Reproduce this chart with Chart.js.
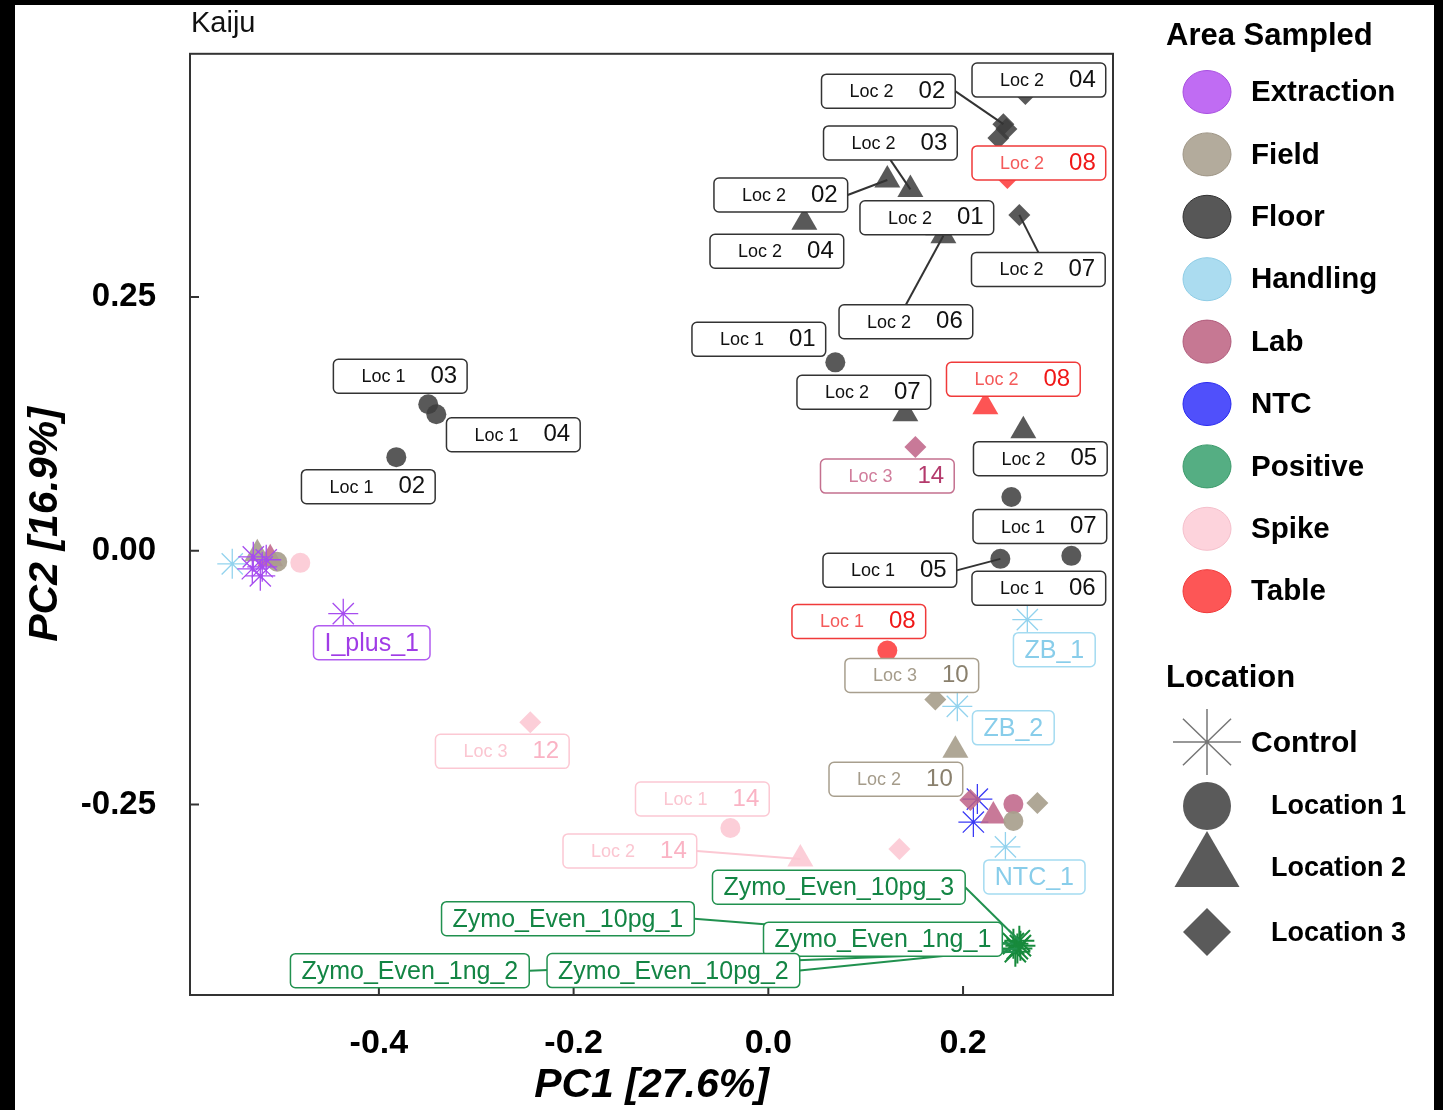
<!DOCTYPE html>
<html>
<head>
<meta charset="utf-8">
<title>Kaiju PCA</title>
<script src="https://cdn.jsdelivr.net/npm/chart.js@4.4.0/dist/chart.umd.min.js"></script>
<style>
  html, body { margin: 0; padding: 0; background: #000; }
  canvas { display: block; }
</style>
</head>
<body>
<canvas id="pca" width="1443" height="1110"></canvas>
<script>
const FONT = "'Liberation Sans', Arial, Helvetica, sans-serif";

// ---- data ----
const areaNames = ['Extraction', 'Field', 'Floor', 'Handling', 'Lab', 'NTC', 'Positive', 'Spike', 'Table'];
const locationNames = ['Control', 'Location 1', 'Location 2', 'Location 3'];

const xTicks = [-0.4, -0.2, 0.0, 0.2];
const xTickLabels = ['-0.4', '-0.2', '0.0', '0.2'];
const yTicks = [-0.25, 0.0, 0.25];
const yTickLabels = ['-0.25', '0.00', '0.25'];

// one entry per sample
const sampleArea = [
  'Floor', 'Floor', 'Floor', 'Floor', 'Floor', 'Floor', 'Floor', 'Floor', 'Floor', 'Floor',
  'Floor', 'Floor', 'Floor', 'Floor', 'Floor', 'Floor', 'Floor', 'Floor', 'Floor',
  'Table', 'Table', 'Table',
  'Lab', 'Lab', 'Lab', 'Lab', 'Lab',
  'Field', 'Field', 'Field', 'Field', 'Field', 'Field',
  'Handling', 'Handling', 'Handling', 'Handling',
  'NTC', 'NTC',
  'Positive', 'Positive', 'Positive', 'Positive', 'Positive',
  'Spike', 'Spike', 'Spike', 'Spike', 'Spike',
  'Extraction', 'Extraction', 'Extraction', 'Extraction', 'Extraction', 'Extraction'
];
const sampleLoc = [
  'Location 3', 'Location 3', 'Location 3', 'Location 3', 'Location 3', 'Location 2', 'Location 2', 'Location 2', 'Location 2', 'Location 2',
  'Location 1', 'Location 2', 'Location 2', 'Location 1', 'Location 1', 'Location 1', 'Location 1', 'Location 1', 'Location 1',
  'Location 3', 'Location 2', 'Location 1',
  'Location 3', 'Location 3', 'Location 2', 'Location 1', 'Location 2',
  'Location 3', 'Location 2', 'Location 3', 'Location 1', 'Location 2', 'Location 1',
  'Control', 'Control', 'Control', 'Control',
  'Control', 'Control',
  'Control', 'Control', 'Control', 'Control', 'Control',
  'Location 3', 'Location 1', 'Location 2', 'Location 3', 'Location 1',
  'Control', 'Control', 'Control', 'Control', 'Control', 'Control'
];
const pc1 = [
  0.2640, 0.2414, 0.2445, 0.2363, 0.2578, 0.1222, 0.1459, 0.0370, 0.1798, 0.1746,
  0.0688, 0.1407, 0.2619, -0.3493, -0.3410, -0.3821, 0.2496, 0.2383, 0.3112,
  0.2455, 0.2229, 0.1222,
  0.1510, 0.2075, 0.2311, 0.2517, -0.5116,
  0.1715, 0.1921, 0.2763, 0.2517, -0.5249, -0.5044,
  0.2660, 0.1941, 0.2435, -0.5506,
  0.2147, 0.2106,
  0.2578, 0.2517, 0.2589, 0.2537, 0.2558,
  -0.2445, -0.0390, 0.0329, 0.1346, -0.4807,
  -0.4366, -0.5290, -0.5300, -0.5198, -0.5157, -0.5218
];
const pc2 = [
  0.4500, 0.4204, 0.4155, 0.4067, 0.3310, 0.3654, 0.3561, 0.3237, 0.3104, 0.3183,
  0.1857, 0.1351, 0.1184, 0.1444, 0.1346, 0.0923, 0.0530, -0.0079, -0.0049,
  0.3674, 0.1419, -0.0982,
  0.1022, -0.2456, -0.2613, -0.2495, -0.0079,
  -0.1464, -0.1965, -0.2485, -0.2662, -0.0029, -0.0108,
  -0.0678, -0.1532, -0.2917, -0.0128,
  -0.2446, -0.2672,
  -0.3841, -0.3870, -0.3890, -0.3949, -0.3919,
  -0.1690, -0.2731, -0.3035, -0.2937, -0.0118,
  -0.0619, -0.0059, -0.0177, -0.0157, -0.0088, -0.0246
];
const sampleTag = [
  'Loc 2 04', 'Loc 2 02', null, null, 'Loc 2 07', 'Loc 2 02', 'Loc 2 03', 'Loc 2 04', 'Loc 2 06', 'Loc 2 01',
  'Loc 1 01', 'Loc 2 07', 'Loc 2 05', 'Loc 1 03', 'Loc 1 04', 'Loc 1 02', 'Loc 1 07', 'Loc 1 05', 'Loc 1 06',
  'Loc 2 08', 'Loc 2 08', 'Loc 1 08',
  'Loc 3 14', null, null, null, null,
  'Loc 3 10', 'Loc 2 10', null, null, null, null,
  'ZB_1', 'ZB_2', 'NTC_1', null,
  null, null,
  'Zymo_Even_10pg_3', 'Zymo_Even_10pg_1', 'Zymo_Even_1ng_1', 'Zymo_Even_1ng_2', 'Zymo_Even_10pg_2',
  'Loc 3 12', 'Loc 1 14', 'Loc 2 14', null, null,
  'I_plus_1', null, null, null, null, null
];

// ---- label layout: box centre offset from its point, in pixels ----
const tagNudge = [
  [13.5, -14], [-115, -33], null, null, [19, 54.5], [-106.5, 15], [-20, -46.5], [-27.5, 29], [-37.5, 86], [-11.5, -10],
  [-76.5, -23], [-41.5, -21.5], [17, 28], [-28, -28], [77, 20.5], [-28, 29.5], [28.5, 29.5], [-110.5, 11.5], [-32.5, 32.5],
  [31.5, -15], [28, -27.5], [-28.5, -29],
  [-28, 29], null, null, null, null,
  [-23.5, -24], [-59.5, 29], null, null, null, null,
  [27, 30], [56, 21.5], [29, 30], null,
  null, null,
  [-180.5, -53.5], [-445.5, -25], [-137.5, -6.5], [-605.5, 19], [-344, 22],
  [-28, 29], [-28, -29], [-170.5, -8], null, null,
  [28.5, 29], null, null, null, null, null
];

// ---- styles ----
const areaStyle = {
  Extraction: { fill: 'rgba(182,92,240,0.9)', line: '#a64cef', legend: '#c06cf3', edge: '#a84fe0', tagLine: '#b25cf0', pre: '#a03ce6', num: '#a03ce6' },
  Field:      { fill: 'rgba(168,159,141,0.92)', line: '#a89f8d', legend: '#b3ab9c', edge: '#9e9585', tagLine: '#a89f8e', pre: '#a59c8b', num: '#8a806d' },
  Floor:      { fill: 'rgba(62,62,62,0.86)', line: '#3e3e3e', legend: '#575757', edge: '#333333', tagLine: '#333333', pre: '#111111', num: '#111111' },
  Handling:   { fill: 'rgba(147,211,238,0.95)', line: '#93d3ee', legend: '#abdcf0', edge: '#8fcde6', tagLine: '#a4dbf1', pre: '#88cdea', num: '#88cdea' },
  Lab:        { fill: 'rgba(190,98,134,0.85)', line: '#be6286', legend: '#c67893', edge: '#b05a7a', tagLine: '#c4708f', pre: '#d17d9c', num: '#b43a6c' },
  NTC:        { fill: 'rgba(58,58,245,0.9)', line: '#3a3af5', legend: '#5050fb', edge: '#2a2af0', tagLine: '#3a3af5', pre: '#3a3af5', num: '#3a3af5' },
  Positive:   { fill: 'rgba(23,138,60,0.9)', line: '#178a3c', legend: '#55ae83', edge: '#3a9a6a', tagLine: '#21914f', pre: '#138544', num: '#138544' },
  Spike:      { fill: 'rgba(252,203,214,0.95)', line: '#fccbd6', legend: '#fdd3dc', edge: '#f5c0cc', tagLine: '#fcc8d3', pre: '#fbc6d1', num: '#fab3c4' },
  Table:      { fill: 'rgba(253,75,75,0.95)', line: '#fd4b4b', legend: '#fd5656', edge: '#f03a3a', tagLine: '#f03a3a', pre: '#f45a5a', num: '#f01818' }
};
const shapeFor = { 'Control': 'star', 'Location 1': 'circle', 'Location 2': 'triangle', 'Location 3': 'rectRot' };
const radiusFor = { 'Control': 15, 'Location 1': 10, 'Location 2': 15, 'Location 3': 11 };

// build one dataset per area sampled
const datasets = areaNames.map(area => {
  const st = areaStyle[area];
  const idx = [];
  sampleArea.forEach((a, i) => { if (a === area) idx.push(i); });
  return {
    label: area,
    data: idx.map(i => ({ x: pc1[i], y: pc2[i], loc: sampleLoc[i] })),
    pointStyle: c => shapeFor[c.raw.loc],
    pointRadius: c => radiusFor[c.raw.loc],
    pointHoverRadius: c => radiusFor[c.raw.loc],
    pointBackgroundColor: c => c.raw.loc === 'Control' ? 'rgba(0,0,0,0)' : st.fill,
    pointBorderColor: c => c.raw.loc === 'Control' ? st.line : st.fill,
    pointBorderWidth: c => c.raw.loc === 'Control' ? (area === 'Positive' ? 2 : 1.3) : 0
  };
});

function roundBox(ctx, x, y, w, h, r) {
  ctx.beginPath();
  ctx.moveTo(x + r, y);
  ctx.lineTo(x + w - r, y);
  ctx.arcTo(x + w, y, x + w, y + r, r);
  ctx.lineTo(x + w, y + h - r);
  ctx.arcTo(x + w, y + h, x + w - r, y + h, r);
  ctx.lineTo(x + r, y + h);
  ctx.arcTo(x, y + h, x, y + h - r, r);
  ctx.lineTo(x, y + r);
  ctx.arcTo(x, y, x + r, y, r);
  ctx.closePath();
}

// background frame, axis box and inward ticks
const framePlugin = {
  id: 'framePlugin',
  beforeDraw(chart) {
    const { ctx, width, height } = chart;
    ctx.save();
    ctx.fillStyle = '#000';
    ctx.fillRect(0, 0, width, height);
    ctx.fillStyle = '#fff';
    ctx.fillRect(15, 5, 1419, height - 5);
    ctx.restore();
  },
  beforeDatasetsDraw(chart) {
    const { ctx, chartArea: a, scales } = chart;
    ctx.save();
    ctx.strokeStyle = '#333';
    ctx.lineWidth = 2;
    ctx.strokeRect(a.left, a.top, a.right - a.left, a.bottom - a.top);
    ctx.beginPath();
    scales.x.ticks.forEach(t => {
      const p = scales.x.getPixelForValue(t.value);
      ctx.moveTo(p, a.bottom); ctx.lineTo(p, a.bottom - 9);
    });
    scales.y.ticks.forEach(t => {
      const p = scales.y.getPixelForValue(t.value);
      ctx.moveTo(a.left, p); ctx.lineTo(a.left + 9, p);
    });
    ctx.stroke();
    ctx.fillStyle = '#111';
    ctx.font = '29px ' + FONT;
    ctx.textBaseline = 'alphabetic';
    ctx.fillText('Kaiju', 191, 32);
    ctx.restore();
  }
};

// repelled-style sample labels with leader segments
const tagPlugin = {
  id: 'tagPlugin',
  afterDatasetsDraw(chart) {
    const { ctx, scales: { x, y } } = chart;
    const boxes = [];
    for (let i = 0; i < pc1.length; i++) {
      if (!sampleTag[i]) continue;
      const st = areaStyle[sampleArea[i]];
      const px = x.getPixelForValue(pc1[i]);
      const py = y.getPixelForValue(pc2[i]);
      const text = sampleTag[i];
      let w, pre = null, num = text, wPre = 0;
      if (text.startsWith('Loc ')) {
        const cut = text.lastIndexOf(' ');
        pre = text.slice(0, cut);
        num = text.slice(cut + 1);
        ctx.font = '18px ' + FONT;
        wPre = ctx.measureText(pre).width;
        ctx.font = '24px ' + FONT;
        w = 28 + wPre + 25 + ctx.measureText(num).width + 10;
      } else {
        ctx.font = '25px ' + FONT;
        w = ctx.measureText(text).width + 22;
      }
      const h = 34;
      const cx = px + tagNudge[i][0];
      const cy = py + tagNudge[i][1];
      boxes.push({ px, py, cx, cy, w, h, pre, num, wPre, st });
    }
    // leader segments first
    ctx.save();
    ctx.lineWidth = 2;
    boxes.forEach(b => {
      const l = b.cx - b.w / 2, r = b.cx + b.w / 2, t = b.cy - b.h / 2, bt = b.cy + b.h / 2;
      const qx = Math.min(Math.max(b.px, l), r), qy = Math.min(Math.max(b.py, t), bt);
      if (Math.hypot(b.px - qx, b.py - qy) < 25) return;
      const cands = [[b.cx, t], [b.cx, bt], [l, b.cy], [r, b.cy]];
      let best = cands[0], bd = Infinity;
      cands.forEach(c => {
        const d = Math.hypot(c[0] - b.px, c[1] - b.py);
        if (d < bd) { bd = d; best = c; }
      });
      ctx.strokeStyle = b.st.tagLine;
      ctx.beginPath();
      ctx.moveTo(best[0], best[1]);
      ctx.lineTo(b.px, b.py);
      ctx.stroke();
    });
    // boxes and text
    boxes.forEach(b => {
      const l = b.cx - b.w / 2, t = b.cy - b.h / 2;
      roundBox(ctx, l, t, b.w, b.h, 5);
      ctx.fillStyle = '#fff';
      ctx.fill();
      ctx.lineWidth = 1.5;
      ctx.strokeStyle = b.st.tagLine;
      ctx.stroke();
      ctx.textBaseline = 'middle';
      if (b.pre) {
        ctx.font = '18px ' + FONT;
        ctx.fillStyle = b.st.pre;
        ctx.textAlign = 'left';
        ctx.fillText(b.pre, l + 28, b.cy + 1);
        ctx.font = '24px ' + FONT;
        ctx.fillStyle = b.st.num;
        ctx.textAlign = 'right';
        ctx.fillText(b.num, l + b.w - 10, b.cy);
      } else {
        ctx.font = '25px ' + FONT;
        ctx.fillStyle = b.st.num;
        ctx.textAlign = 'center';
        ctx.fillText(b.num, b.cx, b.cy + 1);
      }
    });
    ctx.restore();
  }
};

// two-part legend on the right
const legendPlugin = {
  id: 'legendPlugin',
  afterDraw(chart) {
    const ctx = chart.ctx;
    const mx = 1207, tx = 1251;
    ctx.save();
    ctx.textBaseline = 'middle';
    ctx.textAlign = 'left';
    ctx.fillStyle = '#000';
    ctx.font = 'bold 31px ' + FONT;
    ctx.fillText('Area Sampled', 1166, 36);
    areaNames.forEach((name, i) => {
      const st = areaStyle[name];
      const cy = 92 + i * 62.4;
      ctx.beginPath();
      ctx.ellipse(mx, cy, 24, 21.5, 0, 0, Math.PI * 2);
      ctx.fillStyle = st.legend;
      ctx.fill();
      ctx.lineWidth = 1;
      ctx.strokeStyle = st.edge;
      ctx.stroke();
      ctx.fillStyle = '#000';
      ctx.font = 'bold 29.5px ' + FONT;
      ctx.fillText(name, tx, cy + 1);
    });

    ctx.font = 'bold 31px ' + FONT;
    ctx.fillText('Location', 1166, 678);
    const g = '#5a5a5a';
    // Control: asterisk
    ctx.strokeStyle = '#777';
    ctx.lineWidth = 1.5;
    ctx.beginPath();
    for (let k = 0; k < 4; k++) {
      const ang = k * Math.PI / 4;
      ctx.moveTo(mx - Math.cos(ang) * 34, 742 - Math.sin(ang) * 33);
      ctx.lineTo(mx + Math.cos(ang) * 34, 742 + Math.sin(ang) * 33);
    }
    ctx.stroke();
    // Location 1: circle
    ctx.fillStyle = g;
    ctx.beginPath();
    ctx.arc(mx, 806, 24, 0, Math.PI * 2);
    ctx.fill();
    // Location 2: triangle
    ctx.beginPath();
    ctx.moveTo(mx, 831);
    ctx.lineTo(mx + 32.5, 887);
    ctx.lineTo(mx - 32.5, 887);
    ctx.closePath();
    ctx.fill();
    // Location 3: diamond
    ctx.beginPath();
    ctx.moveTo(mx, 908);
    ctx.lineTo(mx + 24, 932);
    ctx.lineTo(mx, 956);
    ctx.lineTo(mx - 24, 932);
    ctx.closePath();
    ctx.fill();

    ctx.fillStyle = '#000';
    ctx.font = 'bold 30px ' + FONT;
    ctx.fillText(locationNames[0], tx, 744);
    ctx.font = 'bold 27px ' + FONT;
    ctx.fillText(locationNames[1], 1271, 807);
    ctx.fillText(locationNames[2], 1271, 869);
    ctx.fillText(locationNames[3], 1271, 934);
    ctx.restore();
  }
};

const ctx = document.getElementById('pca').getContext('2d');

const config = {
  type: 'scatter',
  data: { datasets: datasets },
  options: {
    responsive: false,
    animation: false,
    devicePixelRatio: 1,
    layout: { padding: { top: 48, left: 0, right: 330, bottom: 0 } },
    plugins: {
      legend: { display: false },
      tooltip: { enabled: false },
      title: { display: false }
    },
    scales: {
      x: {
        type: 'linear',
        min: -0.594,
        max: 0.354,
        afterBuildTicks: s => { s.ticks = xTicks.map(v => ({ value: v })); },
        afterFit: s => { s.height = 115; },
        grid: { display: false, drawTicks: false },
        border: { display: false },
        ticks: {
          autoSkip: false,
          maxRotation: 0,
          padding: 28,
          color: '#000',
          font: { family: FONT, size: 34, weight: 'bold' },
          callback: (v, i) => xTickLabels[i]
        },
        title: {
          display: true,
          text: 'PC1 [27.6%]',
          color: '#000',
          font: { family: FONT, size: 41, weight: 'bold', style: 'italic' },
          padding: { top: 0, bottom: 0 }
        }
      },
      y: {
        type: 'linear',
        min: -0.4376,
        max: 0.4897,
        afterBuildTicks: s => { s.ticks = yTicks.map(v => ({ value: v })); },
        afterFit: s => { s.width = 190; },
        grid: { display: false, drawTicks: false },
        border: { display: false },
        ticks: {
          autoSkip: false,
          padding: 34,
          color: '#000',
          font: { family: FONT, size: 33, weight: 'bold' },
          callback: (v, i) => yTickLabels[i]
        },
        title: {
          display: true,
          text: 'PC2 [16.9%]',
          color: '#000',
          font: { family: FONT, size: 41, weight: 'bold', style: 'italic' },
          padding: { top: 21, bottom: 0 }
        }
      }
    }
  },
  plugins: [framePlugin, tagPlugin, legendPlugin]
};

const pcaChart = new Chart(ctx, config);
</script>
</body>
</html>
